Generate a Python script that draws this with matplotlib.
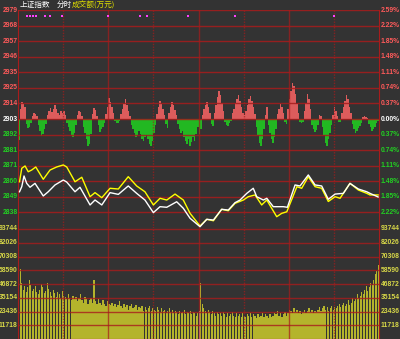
import numpy as np
import matplotlib
matplotlib.use("Agg")
import matplotlib.pyplot as plt

plt.rcParams['font.family'] = ['Noto Sans CJK SC', 'DejaVu Sans']

# ---- data ----
prev_close = 2903.0
price_labels = ['2979', '2968', '2957', '2946', '2935', '2925', '2914', '2903',
                '2892', '2881', '2871', '2860', '2849', '2838']
pct_labels = ['2.59%', '2.22%', '1.85%', '1.48%', '1.11%', '0.74%', '0.37%', '0.00%',
              '0.37%', '0.74%', '1.11%', '1.48%', '1.85%', '2.22%']
vol_labels = ['93744', '82026', '70308', '58590', '46872', '35154', '23436', '11718']

# index line (white): minute, price
idx_min = [1, 2.5, 4, 5.8, 8, 11.3, 16.8, 20.1, 24.6, 30.1, 32.4, 37.9, 41.2, 47.9, 51.2,
           55.7, 61.2, 66.7, 73.3, 78.9, 84.4, 90, 94.4, 98.9, 105.5, 109.9, 114.4, 121,
           125.5, 129.9, 135.4, 139.8, 144.3, 147.6, 152.1, 156.4, 158.7, 163.1, 165.4,
           169.7, 176.4, 179.1, 184.2, 187.5, 193, 197.5, 201.9, 206.3, 210.8, 216.3,
           220.7, 226.3, 231.9, 234, 239.4]
idx_val = [2852.8, 2856.3, 2863.7, 2858.6, 2855.9, 2858.6, 2849.9, 2852.8, 2857.5, 2860.9,
           2859.5, 2852.8, 2855.9, 2843.7, 2847.1, 2843.7, 2852.2, 2851.0, 2856.8, 2851.7,
           2847.1, 2838.4, 2842.5, 2842.1, 2845.9, 2841.4, 2834.5, 2828.7, 2833.8, 2833.3,
           2840.7, 2840.2, 2845.3, 2847.1, 2851.7, 2855.2, 2849.4, 2847.1, 2848.3, 2842.5,
           2842.5, 2842.1, 2857.5, 2856.8, 2864.4, 2857.5, 2856.8, 2847.6, 2851.2, 2851.7,
           2858.6, 2854.7, 2852.8, 2851.7, 2849.2]

# average line (yellow)
avg_min = [1, 2.5, 4.7, 6.8, 9.1, 11.8, 16.8, 21.3, 25.7, 30.1, 32.4, 37.9, 42.4, 47.9,
           51.2, 55.7, 61.2, 66.7, 73.3, 78.9, 84.4, 90, 94.4, 98.9, 104.4, 109.9, 114.4,
           121, 125.5, 129.9, 135.4, 139.8, 144.3, 149.8, 153.1, 157.6, 162, 165.4, 172,
           175.3, 178.7, 185.4, 188.6, 193, 197.5, 201.9, 206.3, 210.8, 214.1, 220.7,
           226.3, 231.9, 234, 239.4]
avg_val = [2859.7, 2869.0, 2870.6, 2866.6, 2867.8, 2869.9, 2861.4, 2867.8, 2869.9, 2871.3,
           2869.9, 2859.7, 2862.8, 2849.4, 2852.2, 2848.7, 2855.2, 2854.7, 2863.2, 2856.8,
           2852.8, 2843.7, 2848.3, 2847.1, 2851.2, 2847.1, 2837.9, 2829.2, 2833.8, 2832.8,
           2840.7, 2839.7, 2844.8, 2847.1, 2849.4, 2850.6, 2843.7, 2847.1, 2835.6, 2837.9,
           2839.0, 2856.3, 2855.2, 2863.2, 2856.3, 2855.2, 2846.1, 2849.4, 2848.3, 2858.6,
           2854.0, 2851.7, 2850.6, 2850.6]

# buy/sell strength bars around previous close (pixels of the original, + red / - green)
strength = [-21, 10, 17, 15, 12, -5, -9, -8, -4, 3, 6, 5, 3,
            -6, -12, -17, -15, -10, -5, 4, 8, 11, 7, 10, 14, 10, 6,
            4, 8, 6, 8, 4, -4, -8, -12, -16, -18, -14, -6,
            4, 8, 7, 3, -8, -14, -20, -27, -25, -15, 5, 11, 9, 3,
            -6, -13, -10, -8, -4, 5, 12, 21, 17, 12, 6, -2, -4, -4, -2,
            5, 10, 15, 20, 14, 8, 3,
            -6, -10, -14, -18, -16, -12, -15, -20, -22, -18, -16, -20, -25, -27, -22, -14, -6,
            5, 12, 18, 15, 10, 4, -5, -9, 6, 12, 17, 14, 9, 4,
            -5, -10, -14, -12, -18, -22, -25, -20, -27, -23, -18, -22, -15, -8,
            -15, -10, 4, 10, 14, 17, 12, 6, -5, -7, 6, 14, 22, 28, 24, 16, 8,
            -3, -6, -7, -4, -2, 6, 10, 16, 20, 24, 18, 12, 6, 4, 8, 14, 20, 23, 18, 12, 5,
            -8, -16, -24, -27, -20, -10, 4, 12, -6, -14, -20, -24, -18, -10,
            5, 10, 15, 12, 6, -3, -5, 10, 20, 28, 36, 33, 25, 15, 6, -3, -4, -3,
            8, 16, 25, 20, 10, -6, -10, -13, -11, -6, 4, 3,
            -8, -16, -24, -27, -20, -14, -6, 4, 12, 8, 3, -3, -3,
            6, 12, 18, 24, 20, 12, 6, -5, -10, -14, -12, -9, -7, -4, 2, 3, 2, 1,
            -5, -8, -12, -10, -8, -4, -2]

# turnover per minute, thousands of 万元
volume_k = [86, 60, 48, 42, 45, 40, 44, 50, 46, 41, 43,
            45, 40, 38, 42, 47, 44, 39, 41, 48, 43, 40, 37, 42, 39, 36, 40, 38, 35, 41, 37,
            36, 34, 38, 35, 33, 37, 34, 36, 32, 35, 38, 33, 31, 36, 34, 30, 33, 35, 31, 50,
            32, 30, 34, 31, 29, 33, 30, 28, 32, 30,
            29, 31, 28, 30, 27, 29, 32, 28, 26, 30, 27, 29, 25, 28, 30, 26, 27, 29, 25, 27,
            26, 28, 24, 27, 25, 26, 28, 24, 26, 25,
            24, 27, 25, 23, 26, 24, 25, 22, 24, 26, 23, 25, 22, 24, 23, 21, 24, 22, 23, 25,
            21, 23, 22, 24, 21, 23, 22, 20, 22, 24,
            48, 30, 26, 24, 22, 25, 23, 21, 24, 22, 20, 23, 21, 22, 20, 23, 21, 19, 22, 20,
            21, 23, 20, 19, 22, 20, 21, 19, 22, 20,
            19, 21, 20, 22, 19, 21, 20, 18, 21, 19, 20, 22, 19, 21, 20, 18, 21, 19, 20, 22,
            21, 24, 20, 22, 19, 21, 23, 20, 22, 25,
            24, 22, 26, 23, 25, 22, 24, 21, 23, 25, 22, 24, 26, 23, 25, 22, 24, 23, 25, 27,
            24, 26, 28, 25, 27, 24, 26, 28, 25, 27,
            26, 28, 30, 27, 29, 31, 28, 30, 33, 29, 31, 35, 32, 34, 38, 35, 37, 40, 38, 42,
            45, 41, 44, 48, 46, 50, 55, 58, 63]
white_bar = 120

marker_min = [6, 8, 10, 12, 18, 21, 29, 60, 81, 86, 113, 144, 210]

# ---- figure ----
W, H = 400, 339
bg = '#333333'
grid_red = '#a81c1c'
up_red = '#ff5a5a'
down_green = '#22d022'
vol_yellow = '#d8d848'

fig = plt.figure(figsize=(W / 100, H / 100), dpi=100, facecolor=bg)
x0, x1 = 18, 379
top, mid, bot = 10, 228, 339
ax = fig.add_axes([x0 / W, (H - mid) / H, (x1 - x0) / W, (mid - top) / H], facecolor=bg)
axv = fig.add_axes([x0 / W, 0, (x1 - x0) / W, (bot - mid) / H], facecolor=bg)

lo, hi = 2827.8, 2978.2
levels = np.linspace(hi, lo, 15)[:-1]
ax.set_xlim(0, 240)
ax.set_ylim(lo, hi)

mins = np.arange(240)
s = np.array(strength) * (hi - lo) / (mid - top)
ax.bar(mins + 0.5, np.where(s > 0, s, 0), width=1.0, bottom=prev_close, color='#dc5c5c', lw=0, zorder=2)
ax.bar(mins + 0.5, np.where(s < 0, s, 0), width=1.0, bottom=prev_close, color='#22b822', lw=0, zorder=2)

for lv in levels:
    ax.axhline(lv, color=grid_red, lw=1, alpha=0.85, zorder=3)
for m in range(30, 240, 30):
    ax.axvline(m, color=grid_red, lw=1, ls=(0, (1, 1)) if m % 60 else '-', alpha=0.7, zorder=3)

ax.plot(avg_min, avg_val, color='#ffff00', lw=1, zorder=5)
ax.plot(idx_min, idx_val, color='#ffffff', lw=1, zorder=6)

ax.scatter(marker_min, [2974] * len(marker_min), marker='s', s=3, color='#ff40ff', lw=0, zorder=6)

# volume
vol = np.array(volume_k) * 1000.0
vcol = ['#b4b42c'] * 240
vcol[white_bar] = '#ffffff'
axv.bar(mins + 0.5, vol, width=0.8, color=vcol, lw=0, zorder=2)
axv.set_xlim(0, 240)
axv.set_ylim(0, 93744 * (bot - mid) / (bot - mid - 1))
for k in range(1, 9):
    axv.axhline(11718 * k, color=grid_red, lw=1, alpha=0.8, zorder=3)
for m in range(30, 240, 30):
    axv.axvline(m, color=grid_red, lw=1, ls=(0, (1, 1)) if m % 60 else '-', alpha=0.7, zorder=3)

for a in (ax, axv):
    a.set_xticks([])
    a.set_yticks([])
    for sp in a.spines.values():
        sp.set_color(grid_red)
    a.spines['top'].set_visible(False)

# labels
fs = 4.9
lab_font = dict(fontsize=fs, family='Liberation Sans', weight='bold')
lx = -0.3 / (x1 - x0)
rx = 1 + 1.5 / (x1 - x0)
for lv, lab, pl in zip(levels, price_labels, pct_labels):
    if lv > prev_close + 1:
        c = up_red
    elif lv < prev_close - 1:
        c = down_green
    else:
        c = '#ffffff'
    ax.text(lx, lv, lab, transform=ax.get_yaxis_transform(), ha='right', va='center',
            color=c, **lab_font)
    ax.text(rx, lv, pl, transform=ax.get_yaxis_transform(), ha='left', va='center',
            color=c, **lab_font)
for k, lab in zip(range(8, 0, -1), vol_labels):
    axv.text(lx, 11718 * k, lab, transform=axv.get_yaxis_transform(), ha='right', va='center',
             color=vol_yellow, **lab_font)
    axv.text(rx, 11718 * k, lab, transform=axv.get_yaxis_transform(), ha='left', va='center',
             color=vol_yellow, **lab_font)

fig.text(20 / W, 1 - 5 / H, '上证指数', color='#ffffff', fontsize=5.5, va='center', ha='left')
fig.text(57 / W, 1 - 5 / H, '分时', color='#ffffff', fontsize=5.5, va='center', ha='left')
fig.text(72 / W, 1 - 5 / H, '成交额(万元)', color='#e0e000', fontsize=5.5, va='center', ha='left')

fig.savefig('out.png', dpi=100, facecolor=bg)
